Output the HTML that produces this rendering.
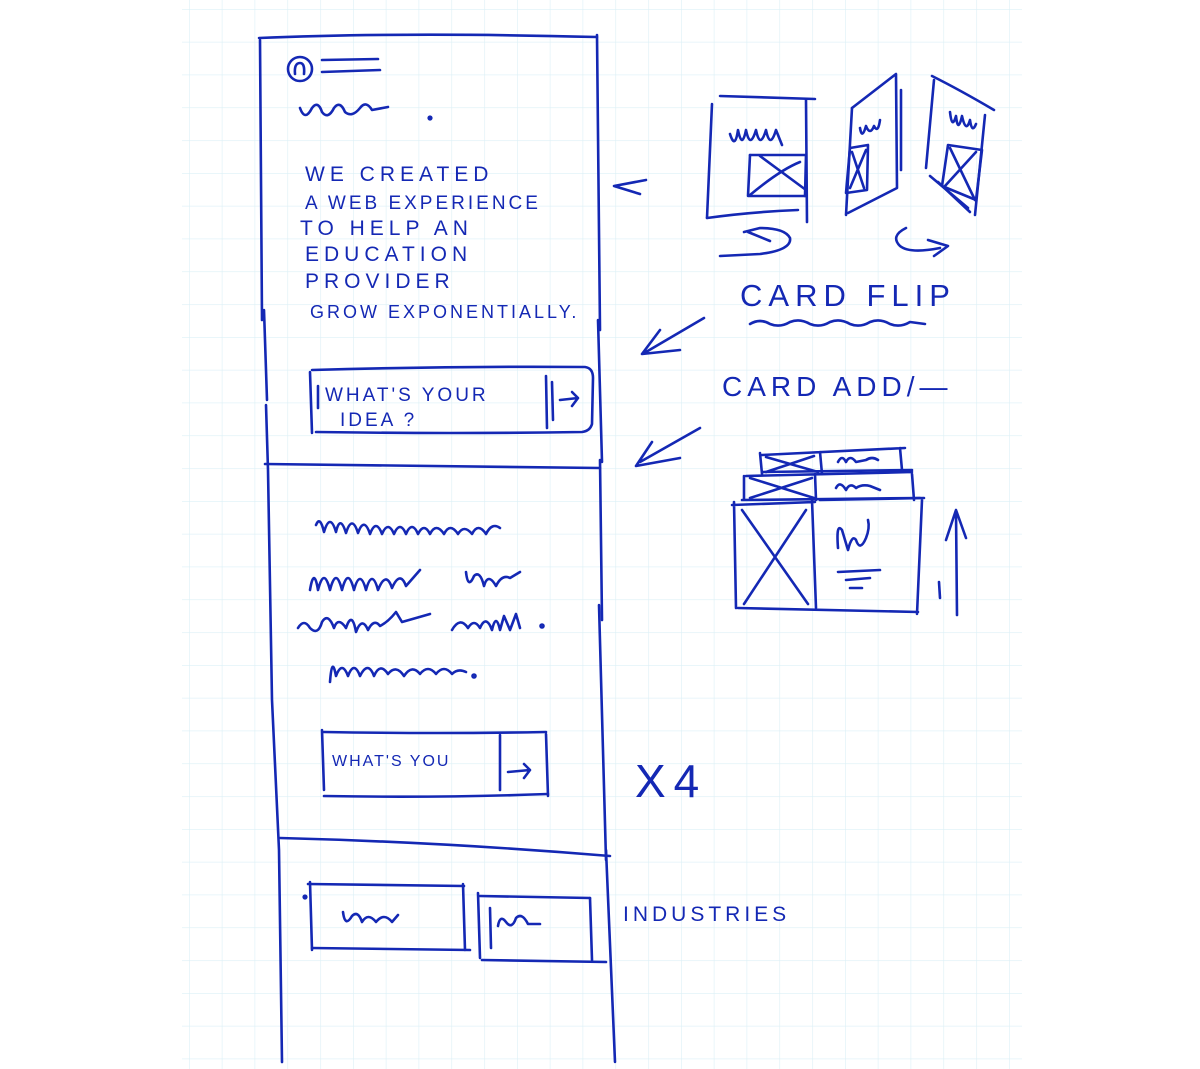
<!DOCTYPE html>
<html><head><meta charset="utf-8"><style>
html,body{margin:0;padding:0;background:#fff;}
svg{display:block}
text{font-family:"Liberation Sans",sans-serif;fill:#1428b4;}
</style></head><body>
<svg width="1200" height="1069" viewBox="0 0 1200 1069" xmlns="http://www.w3.org/2000/svg">
<defs>
<pattern id="g" x="189" y="9" width="32.8" height="32.8" patternUnits="userSpaceOnUse">
<path d="M0 0H32.8M0 0V32.8" stroke="#dcf0f6" stroke-width="1.2" fill="none"/>
</pattern>
</defs>
<rect x="182" y="0" width="840" height="1069" fill="url(#g)"/>
<g stroke="#1428b4" stroke-width="2.6" fill="none" stroke-linecap="round" stroke-linejoin="round">
<!-- main frame -->
<path d="M259 38 Q400 32 597 37"/>
<path d="M260 40 L262 320"/><path d="M264 310 L267 400"/><path d="M266 405 L268 470 L272 700 L279 850 L282 1062"/>
<path d="M597 35 L600 330"/><path d="M598 320 L602 462"/><path d="M600 460 L602 620"/><path d="M599 605 L606 860"/><path d="M606 850 L615 1062"/>
<path d="M265 464 Q420 466 600 468"/>
<path d="M280 838 Q440 842 610 856"/>
<!-- logo -->
<circle cx="300" cy="69" r="12"/>
<path d="M295 74 Q294 63 300 63 Q305 63 304 74"/>
<path d="M322 60 L378 59"/><path d="M322 72 L380 70"/>
<path d="M300 108 Q305 122 312 108 Q318 100 322 112 Q328 120 334 108 Q340 100 345 112 Q352 118 360 108 Q366 100 372 110 L388 107"/>
<circle cx="430" cy="118" r="1.3"/>
<!-- button1 -->
<path d="M312 370 Q450 366 585 367 Q593 368 593 378 L592 424 Q590 431 582 432 Q450 434 316 432"/>
<path d="M310 372 L312 433"/><path d="M318 386 L318 408"/>
<path d="M546 376 L547 428"/><path d="M552 382 L553 420"/>
<path d="M560 400 L578 398 M572 392 L578 398 L572 406"/>
<!-- squiggles section 2 -->
<path d="M316 525 Q320 515 324 532 Q330 512 336 532 Q340 514 346 533 Q352 514 358 533 Q364 516 370 534 Q376 518 382 534 Q388 520 394 534 Q400 520 406 534 Q412 520 418 534 Q424 522 430 534 Q436 522 444 534 Q450 522 458 534 Q464 524 472 534 Q478 522 486 534 Q492 522 500 528"/>
<path d="M310 590 Q314 566 318 590 Q324 566 330 590 Q336 566 342 590 Q348 566 354 590 Q360 568 366 590 Q372 568 378 590 Q386 570 392 588 Q400 570 406 586 L420 570"/>
<path d="M466 572 Q468 590 474 576 Q480 570 484 586 Q488 572 496 586 Q502 574 510 578 L520 572"/>
<path d="M298 628 Q304 618 310 628 Q318 636 322 622 Q328 612 334 628 Q338 616 346 628 Q352 610 356 632 Q362 616 368 630 Q374 618 380 626 Q388 622 396 612 L402 622 L430 614"/>
<path d="M452 630 Q460 616 468 628 Q474 618 480 628 Q486 614 492 630 Q496 612 500 630 L504 616 L510 630 L516 614 L520 628"/>
<circle cx="542" cy="626" r="1.5"/>
<path d="M330 682 Q332 655 336 676 Q342 660 348 676 Q354 660 360 676 Q368 660 374 676 Q380 662 388 674 Q396 664 404 676 Q412 664 420 674 Q428 664 436 674 Q444 664 452 674 Q458 668 466 672"/>
<circle cx="474" cy="676" r="1.5"/>
<!-- button2 -->
<path d="M324 732 Q440 734 546 732"/><path d="M324 796 Q440 798 548 794"/>
<path d="M322 730 L324 790"/><path d="M500 735 L500 790"/><path d="M546 734 L548 796"/>
<path d="M508 772 L530 770 M524 764 L530 770 L524 778"/>
<!-- bottom boxes -->
<path d="M308 884 L464 886"/><path d="M310 882 L312 950"/><path d="M312 948 L470 950"/><path d="M463 884 L465 950"/>
<path d="M480 896 L590 898"/><path d="M478 893 L480 958"/><path d="M490 908 L491 948"/><path d="M482 960 L606 962"/><path d="M590 898 L592 960"/>
<path d="M343 912 Q345 928 352 916 Q358 910 362 922 Q368 912 376 922 Q384 912 392 922 L398 915"/>
<path d="M498 926 Q500 914 506 922 Q512 930 516 918 Q522 912 528 924 L540 924"/>
<circle cx="305" cy="897" r="1.3"/>
<!-- arrows left pointing -->
<path d="M646 180 L614 186 L640 194"/>
<path d="M704 318 L646 352 M660 330 L642 354 L680 350"/>
<path d="M700 428 L640 462 M652 442 L636 466 L680 458"/>
<!-- flip cards -->
<path d="M720 96 L815 99"/><path d="M712 104 L707 218"/><path d="M806 100 L807 222"/>
<path d="M707 218 Q750 212 798 210"/>
<path d="M730 134 Q735 150 738 130 Q742 150 746 130 Q750 150 756 130 Q760 150 766 130 Q770 150 776 130 L782 145"/>
<path d="M750 155 L806 155"/><path d="M750 155 L748 196 L806 196"/><path d="M806 155 L805 196"/>
<path d="M760 156 L806 190 M750 195 Q780 170 800 162"/>
<path d="M852 108 L896 74 L897 188 L848 213"/><path d="M852 108 L846 215"/><path d="M901 90 L901 170"/>
<path d="M860 128 Q862 140 866 126 Q870 136 874 126 Q878 134 880 120"/>
<path d="M850 148 L868 145 L867 190 L846 193 Z M852 152 L864 188 M866 150 L850 188"/>
<path d="M932 76 Q960 90 994 110"/><path d="M934 80 L926 168"/><path d="M985 115 L975 215"/>
<path d="M930 176 L968 208"/><path d="M938 182 L970 212"/>
<path d="M950 112 Q952 130 956 116 Q958 134 962 116 Q966 134 970 120 Q972 134 976 124"/>
<path d="M948 145 L982 150 L976 200 L942 186 Z M950 148 L975 200 M976 152 L945 186"/>
<path d="M744 232 L760 228 Q785 228 790 238 Q792 250 760 254 L720 256"/>
<path d="M748 232 L770 241"/>
<path d="M906 228 Q890 236 900 246 Q910 254 940 248 M928 240 L948 246 L934 256"/>
<!-- card flip label -->
<path d="M750 324 Q760 318 770 324 Q780 328 790 322 Q800 318 810 324 Q820 328 830 322 Q840 318 850 324 Q860 328 870 322 Q880 318 890 324 Q900 328 910 322 L925 324"/>
<!-- stacked cards -->
<path d="M762 455 L905 448 M760 453 L762 474 M820 452 L822 474 M900 448 L902 470 M762 472 L912 470"/>
<path d="M766 457 L818 472 M766 472 L814 456"/>
<path d="M838 462 Q842 454 846 462 Q850 454 856 462 L866 460 Q872 456 878 460"/>
<path d="M746 476 L912 472 M744 476 L744 500 M815 474 L816 500 M912 474 L914 500 M742 500 L920 498"/>
<path d="M750 478 L814 498 M750 498 L812 478"/>
<path d="M836 488 Q840 480 846 490 Q850 482 856 488 Q862 484 870 486 L880 490"/>
<path d="M734 502 L736 608 M738 608 L918 612 M732 505 L815 502 M812 500 L816 608 M820 500 L924 498 M922 500 L917 614"/>
<path d="M742 510 L808 604 M744 604 L806 510"/>
<path d="M838 548 Q836 522 842 530 L848 550 Q852 534 856 540 Q860 552 866 538 Q870 528 868 520"/>
<path d="M838 572 L880 570 M846 580 L870 578 M850 588 L862 588"/>
<path d="M957 615 L956 512 M946 540 L956 510 L966 538"/>
<path d="M939 582 L940 598"/>
</g>
<g font-size="21" letter-spacing="5">
<text x="305" y="181">WE CREATED</text>
<text x="305" y="209" font-size="19" letter-spacing="3">A WEB EXPERIENCE</text>
<text x="300" y="235">TO HELP AN</text>
<text x="305" y="261">EDUCATION</text>
<text x="305" y="288">PROVIDER</text>
<text x="310" y="318" font-size="18" letter-spacing="3">GROW EXPONENTIALLY.</text>
<text x="325" y="401" font-size="19" letter-spacing="3">WHAT'S YOUR</text>
<text x="340" y="426" font-size="19" letter-spacing="3">IDEA ?</text>
<text x="332" y="766" font-size="16" letter-spacing="2">WHAT'S YOU</text>
<text x="623" y="921" font-size="21" letter-spacing="4">INDUSTRIES</text>
</g>
<text x="740" y="306" font-size="31" letter-spacing="6">CARD FLIP</text>
<text x="722" y="396" font-size="28" letter-spacing="5">CARD ADD/—</text>
<text x="635" y="797" font-size="46" letter-spacing="8">X4</text>
</svg>
</body></html>
